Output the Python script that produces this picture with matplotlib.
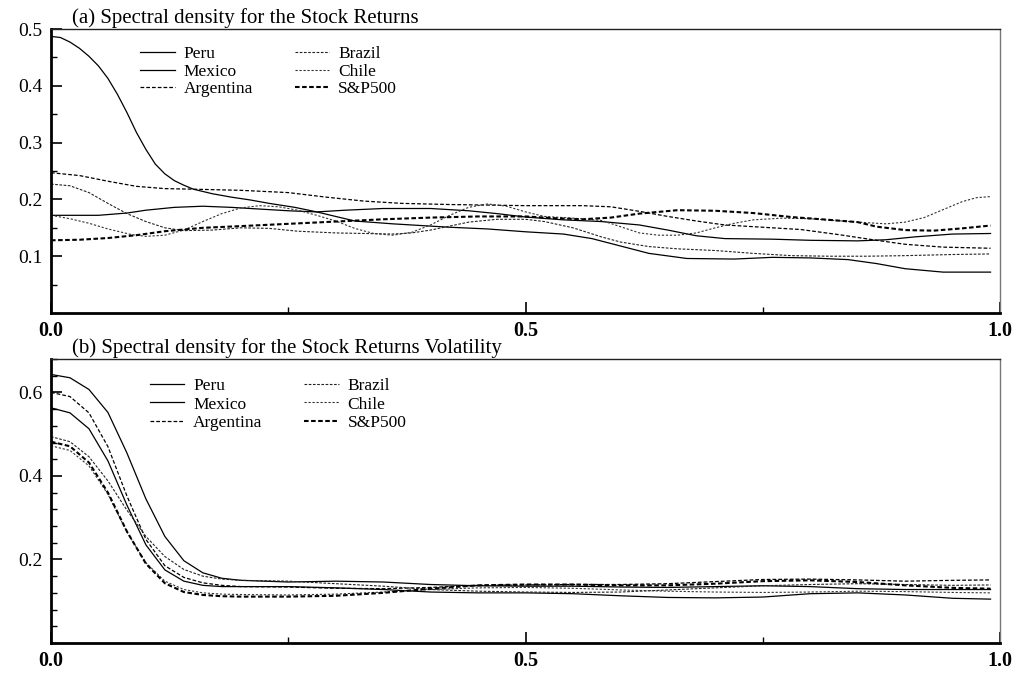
import matplotlib
matplotlib.use("Agg")
import matplotlib.pyplot as plt
from matplotlib.ticker import MultipleLocator, FixedLocator

plt.rcParams['font.family'] = ['Liberation Serif', 'DejaVu Serif']

# ---------------- (a) Stock returns ----------------
peru_a_x = [0, 0.05, 0.08, 0.1, 0.13, 0.16, 0.19, 0.22, 0.25, 0.28, 0.31, 0.35, 0.4, 0.44, 0.47, 0.5,
            0.54, 0.58, 0.62, 0.65, 0.68, 0.71, 0.76, 0.8, 0.85, 0.88, 0.91, 0.95, 0.99]
peru_a_y = [0.172, 0.172, 0.176, 0.181, 0.186, 0.188, 0.186, 0.183, 0.18, 0.178, 0.181, 0.184, 0.184, 0.18, 0.175, 0.169,
            0.164, 0.161, 0.155, 0.146, 0.136, 0.131, 0.13, 0.128, 0.127, 0.129, 0.134, 0.139, 0.14]

mexico_a_x = [0, 0.01, 0.02, 0.03, 0.04, 0.05, 0.06, 0.07, 0.08, 0.09, 0.1, 0.11, 0.12, 0.13, 0.14, 0.15,
              0.17, 0.19, 0.21, 0.23, 0.257, 0.28, 0.3, 0.32, 0.36, 0.42, 0.46, 0.5, 0.54, 0.57, 0.6,
              0.63, 0.67, 0.72, 0.76, 0.8, 0.84, 0.87, 0.9, 0.94, 0.99]
mexico_a_y = [0.487, 0.485, 0.477, 0.466, 0.452, 0.435, 0.413, 0.385, 0.353, 0.318, 0.288, 0.262, 0.245, 0.233, 0.225, 0.218,
              0.21, 0.204, 0.199, 0.193, 0.186, 0.178, 0.17, 0.162, 0.157, 0.151, 0.148, 0.143, 0.139, 0.131, 0.118,
              0.105, 0.096, 0.095, 0.098, 0.097, 0.094, 0.087, 0.078, 0.072, 0.072]

argentina_a_x = [0, 0.03, 0.06, 0.09, 0.12, 0.15, 0.2, 0.25, 0.29, 0.33, 0.37, 0.42, 0.5, 0.56, 0.59,
                 0.62, 0.65, 0.68, 0.71, 0.75, 0.79, 0.83, 0.87, 0.9, 0.94, 0.99]
argentina_a_y = [0.247, 0.242, 0.232, 0.223, 0.219, 0.218, 0.216, 0.212, 0.204, 0.197, 0.193, 0.191, 0.189, 0.189, 0.187,
                 0.179, 0.17, 0.162, 0.155, 0.151, 0.147, 0.138, 0.128, 0.121, 0.116, 0.114]

brazil_a_x = [0, 0.02, 0.04, 0.06, 0.08, 0.1, 0.12, 0.14, 0.17, 0.2, 0.23, 0.26, 0.3, 0.33, 0.36, 0.38, 0.4,
              0.42, 0.44, 0.47, 0.5, 0.52, 0.55, 0.58, 0.6, 0.63, 0.66, 0.7, 0.74, 0.78, 0.82, 0.86, 0.9, 0.95, 0.99]
brazil_a_y = [0.227, 0.224, 0.212, 0.193, 0.175, 0.161, 0.15, 0.145, 0.146, 0.15, 0.149, 0.144, 0.141, 0.14, 0.139, 0.141, 0.146,
              0.153, 0.16, 0.165, 0.165, 0.161, 0.15, 0.134, 0.125, 0.117, 0.113, 0.11, 0.105, 0.101, 0.1, 0.1, 0.101, 0.103, 0.104]

chile_a_x = [0, 0.02, 0.04, 0.06, 0.085, 0.1, 0.12, 0.14, 0.16, 0.18, 0.2, 0.22, 0.24, 0.26, 0.28, 0.3, 0.32,
             0.34, 0.36, 0.38, 0.4, 0.42, 0.44, 0.46, 0.48, 0.5, 0.52, 0.55, 0.58, 0.6, 0.62, 0.64, 0.66, 0.68,
             0.7, 0.72, 0.74, 0.77, 0.8, 0.85, 0.88, 0.9, 0.92, 0.94, 0.96, 0.975, 0.99]
chile_a_y = [0.172, 0.166, 0.158, 0.148, 0.138, 0.135, 0.137, 0.146, 0.161, 0.175, 0.185, 0.189, 0.187, 0.181, 0.172, 0.162, 0.149,
             0.14, 0.137, 0.142, 0.155, 0.172, 0.186, 0.192, 0.188, 0.178, 0.17, 0.167, 0.163, 0.152, 0.141, 0.137, 0.137, 0.141,
             0.15, 0.158, 0.164, 0.167, 0.166, 0.16, 0.157, 0.16, 0.168, 0.182, 0.196, 0.203, 0.205]

sp_a_x = [0, 0.03, 0.06, 0.09, 0.12, 0.16, 0.2, 0.25, 0.3, 0.35, 0.4, 0.45, 0.5, 0.53, 0.56, 0.59, 0.62,
          0.66, 0.7, 0.74, 0.78, 0.82, 0.85, 0.87, 0.9, 0.93, 0.96, 0.99]
sp_a_y = [0.128, 0.129, 0.132, 0.137, 0.144, 0.15, 0.153, 0.157, 0.161, 0.165, 0.168, 0.17, 0.17, 0.167, 0.165, 0.168, 0.175,
          0.181, 0.18, 0.176, 0.169, 0.164, 0.16, 0.152, 0.146, 0.145, 0.149, 0.154]

# ---------------- (b) Volatility ----------------
freq_b = [0, 0.02, 0.04, 0.06, 0.08, 0.1, 0.12, 0.14, 0.16, 0.18, 0.2,
          0.25, 0.3, 0.35, 0.4, 0.45, 0.5, 0.55, 0.6, 0.65, 0.7, 0.75, 0.8, 0.85, 0.9, 0.95, 0.99]
peru_b = [0.643, 0.635, 0.607, 0.552, 0.455, 0.345, 0.255, 0.197, 0.168, 0.155, 0.15,
          0.146, 0.148, 0.146, 0.14, 0.137, 0.136, 0.136, 0.134, 0.133, 0.135, 0.137, 0.135, 0.13, 0.128, 0.128, 0.128]
mexico_b = [0.563, 0.551, 0.513, 0.436, 0.33, 0.235, 0.175, 0.148, 0.138, 0.135, 0.135,
            0.135, 0.132, 0.128, 0.122, 0.12, 0.12, 0.118, 0.113, 0.109, 0.108, 0.11, 0.118, 0.12, 0.115, 0.107, 0.105]
argentina_b = [0.6, 0.59, 0.551, 0.47, 0.352, 0.248, 0.185, 0.157, 0.144, 0.138, 0.135,
               0.134, 0.131, 0.13, 0.133, 0.138, 0.139, 0.14, 0.14, 0.142, 0.147, 0.152, 0.153, 0.151, 0.148, 0.15, 0.151]
brazil_b = [0.494, 0.482, 0.446, 0.388, 0.318, 0.255, 0.207, 0.176, 0.16, 0.153, 0.15,
            0.148, 0.142, 0.136, 0.128, 0.124, 0.122, 0.121, 0.122, 0.127, 0.132, 0.137, 0.14, 0.142, 0.14, 0.138, 0.139]
chile_b = [0.472, 0.461, 0.424, 0.356, 0.266, 0.192, 0.148, 0.128, 0.12, 0.117, 0.116,
           0.115, 0.117, 0.122, 0.128, 0.132, 0.133, 0.131, 0.127, 0.124, 0.122, 0.121, 0.122, 0.124, 0.123, 0.121, 0.12]
sp_b = [0.482, 0.471, 0.432, 0.36, 0.267, 0.19, 0.143, 0.122, 0.115, 0.112, 0.111,
        0.111, 0.113, 0.12, 0.13, 0.138, 0.14, 0.14, 0.138, 0.138, 0.142, 0.148, 0.15, 0.146, 0.138, 0.132, 0.13]

labels = ["Peru", "Mexico", "Argentina", "Brazil", "Chile", "S&P500"]
titles = ["(a) Spectral density for the Stock Returns",
          "(b) Spectral density for the Stock Returns Volatility"]

# line styles per country
styles = {
    "Peru":      dict(color="black", lw=0.9, ls="-"),
    "Mexico":    dict(color="black", lw=0.9, ls="-"),
    "Argentina": dict(color="black", lw=0.9, ls=(0, (3.0, 1.6))),
    "Brazil":    dict(color="#222222", lw=0.8, ls=(0, (2.4, 1.4))),
    "Chile":     dict(color="#333333", lw=0.8, ls=(0, (2.0, 1.6))),
    "S&P500":    dict(color="black", lw=1.5, ls=(0, (2.2, 1.2))),
}

fig = plt.figure(figsize=(10.26, 6.73), dpi=100)
ax_a = fig.add_axes([0.0497, 0.5349, 0.9250, 0.4220])
ax_b = fig.add_axes([0.0497, 0.0446, 0.9250, 0.4220])

series_a = [(peru_a_x, peru_a_y), (mexico_a_x, mexico_a_y), (argentina_a_x, argentina_a_y),
            (brazil_a_x, brazil_a_y), (chile_a_x, chile_a_y), (sp_a_x, sp_a_y)]
series_b = [(freq_b, peru_b), (freq_b, mexico_b), (freq_b, argentina_b),
            (freq_b, brazil_b), (freq_b, chile_b), (freq_b, sp_b)]

for ax, series, title, ylim, ymaj, ymin, leg_anchor, lspace in [
        (ax_a, series_a, titles[0], (0, 0.5), 0.1, 0.05, (0.094, 0.940), 0.08),
        (ax_b, series_b, titles[1], (0, 0.68), 0.2, 0.04, (0.104, 0.935), 0.16)]:
    for lab, (xs, ys) in zip(labels, series):
        ax.plot(xs, ys, label=lab, **styles[lab])
    ax.set_xlim(0, 1)
    ax.set_ylim(*ylim)

    ax.yaxis.set_major_locator(MultipleLocator(ymaj))
    ax.yaxis.set_minor_locator(MultipleLocator(ymin))
    ax.xaxis.set_major_locator(FixedLocator([0.0, 0.5, 1.0]))
    ax.xaxis.set_minor_locator(FixedLocator([0.25, 0.75]))
    ax.set_xticklabels(["0.0", "0.5", "1.0"], fontweight="bold", fontsize=14.5)
    yt = [t for t in ax.get_yticks() if 0 < t <= ylim[1] + 1e-9]
    ax.set_yticks(yt)
    ax.set_yticklabels([f"{t:.1f}" for t in yt], fontsize=14)

    ax.tick_params(axis="both", which="major", direction="in", length=8, width=1.2,
                   color="black", top=False, right=False)
    ax.tick_params(axis="both", which="minor", direction="in", length=4, width=1.0,
                   color="black", top=False, right=False)
    ax.tick_params(axis="y", which="major", pad=6)
    ax.tick_params(axis="x", which="major", pad=6)

    for side in ("left", "bottom"):
        ax.spines[side].set_linewidth(2.0)
        ax.spines[side].set_color("black")
    ax.spines["top"].set_linewidth(1.0)
    ax.spines["top"].set_color("#222222")
    ax.spines["right"].set_linewidth(1.0)
    ax.spines["right"].set_color("#777777")

    ax.text(0.022, 1.004, title, transform=ax.transAxes, ha="left", va="bottom",
            fontsize=15)

    ax.legend(loc="upper left", bbox_to_anchor=leg_anchor, ncol=2, frameon=False,
              fontsize=12.5, handlelength=2.0, handletextpad=0.5, columnspacing=2.4,
              labelspacing=lspace, borderpad=0, borderaxespad=0)

fig.savefig("out.png", dpi=100)
